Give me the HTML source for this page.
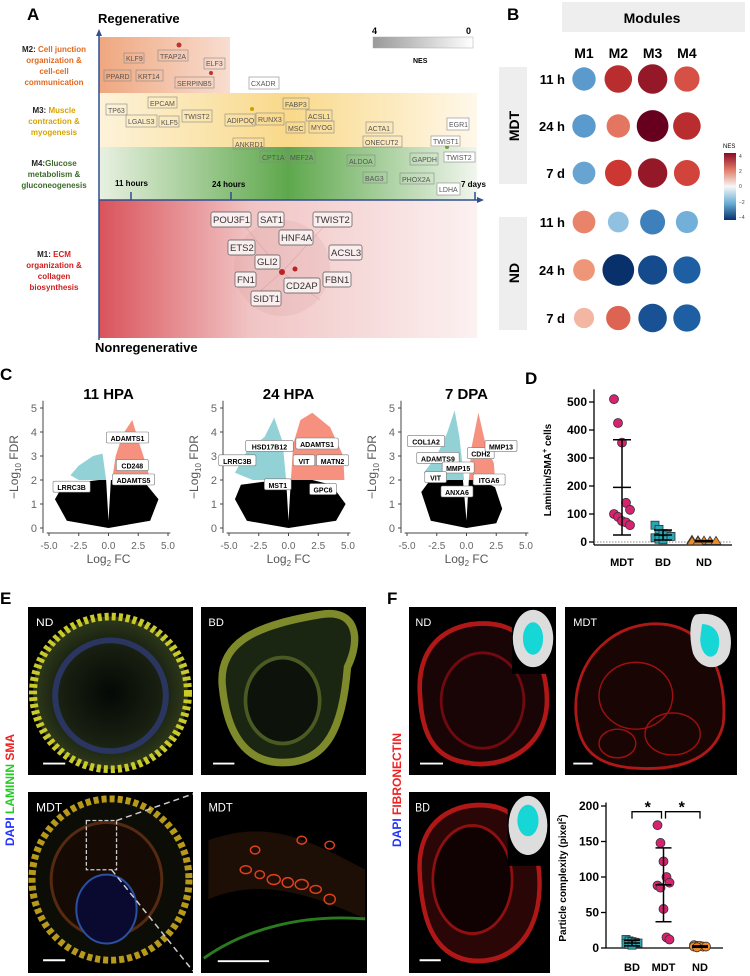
<!DOCTYPE html>
<html><head><meta charset="utf-8">
<style>
body{margin:0;background:#fff;font-family:"Liberation Sans",sans-serif;}
svg{display:block}
text{font-family:"Liberation Sans",sans-serif}
</style></head>
<body>
<svg width="750" height="976" viewBox="0 0 750 976">
<defs>
<linearGradient id="gM2" x1="0" x2="1"><stop offset="0" stop-color="#efa77f"/><stop offset="1" stop-color="#f8ddd0"/></linearGradient>
<linearGradient id="gM3" x1="0" x2="1"><stop offset="0" stop-color="#fdf3da"/><stop offset="0.5" stop-color="#f9d98a"/><stop offset="1" stop-color="#fff8ea"/></linearGradient>
<linearGradient id="gM4" x1="0" x2="1"><stop offset="0" stop-color="#e9f1e2"/><stop offset="0.5" stop-color="#5ea84c"/><stop offset="1" stop-color="#f1f6ee"/></linearGradient>
<linearGradient id="gM1" x1="0" x2="1"><stop offset="0" stop-color="#d9535b"/><stop offset="0.4" stop-color="#f1c4c4"/><stop offset="1" stop-color="#fcf1f1"/></linearGradient>
<linearGradient id="gNES" x1="0" x2="1"><stop offset="0" stop-color="#999"/><stop offset="1" stop-color="#fff"/></linearGradient>
<linearGradient id="gLeg" x1="0" x2="0" y1="0" y2="1"><stop offset="0" stop-color="#8b0a26"/><stop offset="0.25" stop-color="#e07b66"/><stop offset="0.5" stop-color="#f7f7f7"/><stop offset="0.75" stop-color="#6aaed6"/><stop offset="1" stop-color="#08306b"/></linearGradient>
<radialGradient id="tissue" cx="0.5" cy="0.5" r="0.5"><stop offset="0" stop-color="#050805"/><stop offset="0.7" stop-color="#1a2212"/><stop offset="1" stop-color="#2f3a1a"/></radialGradient>
</defs>

<g>
<text x="27" y="20" font-size="17" font-weight="bold">A</text>
<rect x="99" y="37" width="131" height="56" fill="url(#gM2)"/>
<rect x="99" y="93" width="378" height="54" fill="url(#gM3)"/>
<rect x="99" y="147" width="378" height="53" fill="url(#gM4)"/>
<rect x="99" y="200" width="378" height="138" fill="url(#gM1)"/>
<line x1="99" y1="32" x2="99" y2="340" stroke="#2f4f8f" stroke-width="1.5"/>
<polygon points="99,29 96,36 102,36" fill="#2f4f8f"/>
<line x1="99" y1="200" x2="480" y2="200" stroke="#2f4f8f" stroke-width="1.5"/>
<polygon points="484,200 477,197 477,203" fill="#2f4f8f"/>
<line x1="131" y1="192" x2="131" y2="200" stroke="#2f4f8f" stroke-width="1.5"/>
<line x1="231" y1="192" x2="231" y2="200" stroke="#2f4f8f" stroke-width="1.5"/>
<line x1="475" y1="192" x2="475" y2="200" stroke="#2f4f8f" stroke-width="1.5"/>
<text x="115" y="186" font-size="8" font-weight="bold">11 hours</text>
<text x="212" y="187" font-size="8" font-weight="bold">24 hours</text>
<text x="461" y="187" font-size="8" font-weight="bold">7 days</text>
<text x="98" y="23" font-size="13" font-weight="bold">Regenerative</text>
<text x="95" y="352" font-size="13" font-weight="bold">Nonregenerative</text>
<g font-size="8" font-weight="bold" text-anchor="middle">
<text x="54" y="52"><tspan fill="#222">M2: </tspan><tspan fill="#e06a1f">Cell junction</tspan></text>
<text x="54" y="63" fill="#e06a1f">organization &amp;</text>
<text x="54" y="74" fill="#e06a1f">cell-cell</text>
<text x="54" y="85" fill="#e06a1f">communication</text>
<text x="54" y="113"><tspan fill="#222">M3: </tspan><tspan fill="#d9a300">Muscle</tspan></text>
<text x="54" y="124" fill="#d9a300">contraction &amp;</text>
<text x="54" y="135" fill="#d9a300">myogenesis</text>
<text x="54" y="166"><tspan fill="#222">M4:</tspan><tspan fill="#3b6b2a">Glucose</tspan></text>
<text x="54" y="177" fill="#3b6b2a">metabolism &amp;</text>
<text x="54" y="188" fill="#3b6b2a">gluconeogenesis</text>
<text x="54" y="257"><tspan fill="#222">M1: </tspan><tspan fill="#d01c1c">ECM</tspan></text>
<text x="54" y="268" fill="#d01c1c">organization &amp;</text>
<text x="54" y="279" fill="#d01c1c">collagen</text>
<text x="54" y="290" fill="#d01c1c">biosynthesis</text>
</g>
<g stroke="#b0606a" stroke-width="0.4" opacity="0.6">
<circle cx="282" cy="268" r="48" fill="#c88" opacity="0.25" stroke="none"/>
<line x1="282" y1="272" x2="240" y2="220"/><line x1="282" y1="272" x2="330" y2="220"/><line x1="282" y1="272" x2="250" y2="300"/><line x1="282" y1="272" x2="320" y2="300"/>
</g>
<circle cx="282" cy="272" r="3" fill="#b22"/><circle cx="295" cy="269" r="2.5" fill="#b22"/>
<circle cx="179" cy="45" r="2.5" fill="#b33"/><circle cx="211" cy="73" r="2" fill="#b33"/>
<circle cx="252" cy="109" r="2" fill="#c9a000"/><circle cx="447" cy="147" r="2" fill="#6a3"/>
<g font-size="7" fill="#555">
<g>
<rect x="124" y="53" width="20" height="10" fill="none" stroke="#888" stroke-width="0.6"/><text x="126" y="61">KLF9</text>
<rect x="158" y="50" width="30" height="11" fill="none" stroke="#888" stroke-width="0.6"/><text x="160" y="59">TFAP2A</text>
<rect x="204" y="58" width="21" height="11" fill="none" stroke="#888" stroke-width="0.6"/><text x="206" y="66">ELF3</text>
<rect x="104" y="70" width="27" height="11" fill="none" stroke="#888" stroke-width="0.6"/><text x="106" y="79">PPARD</text>
<rect x="136" y="70" width="27" height="11" fill="none" stroke="#888" stroke-width="0.6"/><text x="138" y="79">KRT14</text>
<rect x="175" y="77" width="39" height="11" fill="none" stroke="#888" stroke-width="0.6"/><text x="177" y="86">SERPINB5</text>
<rect x="249" y="77" width="30" height="12" fill="#fff" stroke="#888" stroke-width="0.6"/><text x="251" y="86">CXADR</text>
<rect x="106" y="104" width="21" height="11" fill="none" stroke="#888" stroke-width="0.6"/><text x="108" y="113">TP63</text>
<rect x="148" y="97" width="29" height="11" fill="none" stroke="#888" stroke-width="0.6"/><text x="150" y="106">EPCAM</text>
<rect x="126" y="115" width="31" height="12" fill="none" stroke="#888" stroke-width="0.6"/><text x="128" y="124">LGALS3</text>
<rect x="159" y="116" width="20" height="11" fill="none" stroke="#888" stroke-width="0.6"/><text x="161" y="125">KLF5</text>
<rect x="182" y="110" width="30" height="12" fill="none" stroke="#888" stroke-width="0.6"/><text x="184" y="119">TWIST2</text>
<rect x="225" y="114" width="30" height="12" fill="none" stroke="#888" stroke-width="0.6"/><text x="227" y="123">ADIPOQ</text>
<rect x="256" y="113" width="28" height="12" fill="none" stroke="#888" stroke-width="0.6"/><text x="258" y="122">RUNX3</text>
<rect x="283" y="98" width="26" height="11" fill="none" stroke="#888" stroke-width="0.6"/><text x="285" y="107">FABP3</text>
<rect x="306" y="110" width="26" height="11" fill="none" stroke="#888" stroke-width="0.6"/><text x="308" y="119">ACSL1</text>
<rect x="286" y="122" width="19" height="11" fill="none" stroke="#888" stroke-width="0.6"/><text x="288" y="131">MSC</text>
<rect x="309" y="121" width="25" height="12" fill="none" stroke="#888" stroke-width="0.6"/><text x="311" y="130">MYOG</text>
<rect x="233" y="138" width="31" height="11" fill="none" stroke="#888" stroke-width="0.6"/><text x="235" y="147">ANKRD1</text>
<rect x="260" y="151" width="27" height="11" fill="none" stroke="#888" stroke-width="0.6"/><text x="262" y="160">CPT1A</text>
<rect x="288" y="151" width="27" height="12" fill="none" stroke="#888" stroke-width="0.6"/><text x="290" y="160">MEF2A</text>
<rect x="366" y="122" width="27" height="11" fill="none" stroke="#888" stroke-width="0.6"/><text x="368" y="131">ACTA1</text>
<rect x="363" y="136" width="39" height="11" fill="none" stroke="#888" stroke-width="0.6"/><text x="365" y="145">ONECUT2</text>
<rect x="347" y="155" width="28" height="11" fill="none" stroke="#888" stroke-width="0.6"/><text x="349" y="164">ALDOA</text>
<rect x="363" y="172" width="24" height="11" fill="none" stroke="#888" stroke-width="0.6"/><text x="365" y="181">BAG3</text>
<rect x="447" y="118" width="22" height="12" fill="#fff" stroke="#888" stroke-width="0.6"/><text x="449" y="127">EGR1</text>
<rect x="431" y="136" width="29" height="10" fill="#fff" stroke="#888" stroke-width="0.6"/><text x="433" y="144">TWIST1</text>
<rect x="410" y="153" width="28" height="12" fill="none" stroke="#888" stroke-width="0.6"/><text x="412" y="162">GAPDH</text>
<rect x="444" y="152" width="31" height="10" fill="#fff" stroke="#888" stroke-width="0.6"/><text x="446" y="160">TWIST2</text>
<rect x="400" y="173" width="34" height="11" fill="none" stroke="#888" stroke-width="0.6"/><text x="402" y="182">PHOX2A</text>
<rect x="437" y="183" width="23" height="12" fill="#fff" stroke="#888" stroke-width="0.6"/><text x="439" y="192">LDHA</text>
</g>
</g>
<g font-size="9.5" fill="#333">
<rect x="211" y="212" width="40" height="15" rx="2" fill="#fbeeee" stroke="#555" stroke-width="0.7"/><text x="213" y="223">POU3F1</text>
<rect x="258" y="212" width="26" height="15" rx="2" fill="#fbeeee" stroke="#555" stroke-width="0.7"/><text x="260" y="223">SAT1</text>
<rect x="313" y="212" width="39" height="15" rx="2" fill="#fbeeee" stroke="#555" stroke-width="0.7"/><text x="315" y="223">TWIST2</text>
<rect x="279" y="230" width="34" height="15" rx="2" fill="#fbeeee" stroke="#555" stroke-width="0.7"/><text x="281" y="241">HNF4A</text>
<rect x="228" y="240" width="27" height="15" rx="2" fill="#fbeeee" stroke="#555" stroke-width="0.7"/><text x="230" y="251">ETS2</text>
<rect x="329" y="245" width="33" height="15" rx="2" fill="#fbeeee" stroke="#555" stroke-width="0.7"/><text x="331" y="256">ACSL3</text>
<rect x="255" y="255" width="25" height="14" rx="2" fill="#fbeeee" stroke="#555" stroke-width="0.7"/><text x="257" y="265">GLI2</text>
<rect x="235" y="272" width="21" height="15" rx="2" fill="#fbeeee" stroke="#555" stroke-width="0.7"/><text x="237" y="283">FN1</text>
<rect x="323" y="272" width="28" height="15" rx="2" fill="#fbeeee" stroke="#555" stroke-width="0.7"/><text x="325" y="283">FBN1</text>
<rect x="284" y="278" width="36" height="15" rx="2" fill="#fbeeee" stroke="#555" stroke-width="0.7"/><text x="286" y="289">CD2AP</text>
<rect x="251" y="291" width="30" height="15" rx="2" fill="#fbeeee" stroke="#555" stroke-width="0.7"/><text x="253" y="302">SIDT1</text>
</g>
<g>
<rect x="373" y="37" width="100" height="11" fill="url(#gNES)" stroke="#aaa" stroke-width="0.5"/>
<text x="372" y="34" font-size="9" font-weight="bold">4</text>
<text x="466" y="34" font-size="9" font-weight="bold">0</text>
<text x="413" y="63" font-size="7" font-weight="bold">NES</text>
</g>
</g>

<g>
<text x="507" y="20" font-size="17" font-weight="bold">B</text>
<rect x="562" y="2" width="183" height="30" fill="#eee"/>
<text x="652" y="23" font-size="14" font-weight="bold" text-anchor="middle">Modules</text>
<rect x="499" y="67" width="28" height="117" fill="#eee"/>
<rect x="499" y="217" width="28" height="113" fill="#eee"/>
<text transform="translate(519,126) rotate(-90)" font-size="14" font-weight="bold" text-anchor="middle">MDT</text>
<text transform="translate(519,273) rotate(-90)" font-size="14" font-weight="bold" text-anchor="middle">ND</text>
<g id="bHeat"></g>
<rect x="724" y="153" width="12" height="67" fill="url(#gLeg)"/>
<text x="723" y="148" font-size="6">NES</text>
<g font-size="5" fill="#444"><text x="739" y="158">4</text><text x="739" y="173">2</text><text x="739" y="188">0</text><text x="739" y="204">−2</text><text x="739" y="219">−4</text></g>
</g>

<g>
<text x="0" y="380" font-size="17" font-weight="bold">C</text>
<g id="cVolc"></g>
</g>

<g>
<text x="525" y="384" font-size="17" font-weight="bold">D</text>
<g id="dChart"></g>
</g>

<!-- PANEL E -->
<g>
<text x="0" y="604" font-size="17" font-weight="bold">E</text>
<text transform="translate(14,790) rotate(-90)" font-size="12" font-weight="bold" text-anchor="middle"><tspan fill="#2233ff">DAPI </tspan><tspan fill="#22cc22">LAMININ </tspan><tspan fill="#ee2222">SMA</tspan></text>
<svg x="28" y="607" width="165" height="168" viewBox="22 527 164 176" preserveAspectRatio="none">
<rect x="22" y="527" width="164" height="176" fill="#000"/>
<ellipse cx="104" cy="617" rx="77" ry="80" fill="url(#tissue)" stroke="#c9c92a" stroke-width="8" stroke-dasharray="4 3"/>
<ellipse cx="104" cy="620" rx="55" ry="58" fill="none" stroke="#2a3560" stroke-width="6"/>
<text x="30" y="547" font-size="12" fill="#fff">ND</text>
<line x1="37" y1="691" x2="59" y2="691" stroke="#fff" stroke-width="2"/>
</svg>
<svg x="201" y="607" width="165" height="168" viewBox="192 527 178 176" preserveAspectRatio="none">
<rect x="192" y="527" width="178" height="176" fill="#000"/>
<path d="M215,610 C210,560 260,545 320,535 C360,528 365,560 350,590 C345,650 330,690 280,690 C240,690 220,660 215,610Z" fill="#1a2612" stroke="#7f8a2a" stroke-width="8"/>
<ellipse cx="280" cy="625" rx="40" ry="45" fill="#0d120a" stroke="#4a5a22" stroke-width="4"/>
<text x="200" y="547" font-size="12" fill="#fff">BD</text>
<line x1="205" y1="691" x2="228" y2="691" stroke="#fff" stroke-width="2"/>
</svg>
<svg x="28" y="792" width="165" height="181" viewBox="22 711 164 184" preserveAspectRatio="none">
<rect x="22" y="711" width="164" height="184" fill="#000"/>
<ellipse cx="104" cy="800" rx="78" ry="82" fill="#0d0d08" stroke="#b89a1a" stroke-width="7" stroke-dasharray="5 3"/>
<ellipse cx="100" cy="800" rx="55" ry="58" fill="#160a05" stroke="#552a10" stroke-width="3"/>
<ellipse cx="100" cy="830" rx="30" ry="35" fill="#0a0a30" stroke="#2a50a0" stroke-width="2"/>
<rect x="80" y="740" width="30" height="50" fill="none" stroke="#ccc" stroke-width="1.3" stroke-dasharray="4 2"/>
<line x1="110" y1="740" x2="186" y2="713" stroke="#ccc" stroke-width="1.5" stroke-dasharray="6 4"/>
<line x1="105" y1="790" x2="186" y2="893" stroke="#ccc" stroke-width="1.5" stroke-dasharray="6 4"/>
<text x="30" y="731" font-size="12" fill="#fff">MDT</text>
<line x1="37" y1="882" x2="59" y2="882" stroke="#fff" stroke-width="2"/>
</svg>
<svg x="201" y="792" width="166" height="181" viewBox="192 711 178 184" preserveAspectRatio="none">
<rect x="192" y="711" width="178" height="184" fill="#000"/>
<path d="M200,760 C260,740 300,755 368,790 L368,840 C300,810 250,800 200,820Z" fill="#2a1608" opacity="0.7"/>
<g fill="none" stroke="#e2401c" stroke-width="1.5">
<ellipse cx="240" cy="790" rx="6" ry="4"/><ellipse cx="255" cy="795" rx="5" ry="4"/><ellipse cx="270" cy="800" rx="7" ry="5"/><ellipse cx="285" cy="803" rx="6" ry="5"/><ellipse cx="300" cy="805" rx="7" ry="5"/><ellipse cx="315" cy="810" rx="6" ry="4"/><ellipse cx="330" cy="820" rx="6" ry="5"/><ellipse cx="300" cy="760" rx="5" ry="4"/><ellipse cx="330" cy="765" rx="5" ry="4"/><ellipse cx="250" cy="770" rx="5" ry="4"/>
</g>
<path d="M195,880 C240,850 300,835 368,840" stroke="#2a7a20" stroke-width="3" fill="none"/>
<text x="200" y="731" font-size="12" fill="#fff">MDT</text>
<line x1="210" y1="883" x2="265" y2="883" stroke="#fff" stroke-width="2"/>
</svg>
</g>

<!-- PANEL F -->
<g>
<text x="387" y="604" font-size="17" font-weight="bold">F</text>
<text transform="translate(401,790) rotate(-90)" font-size="12" font-weight="bold" text-anchor="middle"><tspan fill="#2233ff">DAPI </tspan><tspan fill="#ee2222">FIBRONECTIN</tspan></text>
<svg x="409" y="607" width="147" height="168" viewBox="398 527 160 176" preserveAspectRatio="none">
<rect x="398" y="527" width="160" height="176" fill="#000"/>
<path d="M410,620 C405,560 450,540 490,545 C530,550 550,590 548,630 C545,675 500,698 460,690 C425,685 412,660 410,620Z" fill="#1a0506" stroke="#b01818" stroke-width="5"/>
<ellipse cx="478" cy="625" rx="45" ry="50" fill="none" stroke="#700a10" stroke-width="3"/>
<rect x="510" y="527" width="48" height="70" fill="#000"/>
<ellipse cx="533" cy="560" rx="22" ry="30" fill="#ddd"/><ellipse cx="533" cy="560" rx="11" ry="17" fill="#16d6d6"/>
<text x="405" y="547" font-size="12" fill="#fff">ND</text>
<line x1="410" y1="691" x2="435" y2="691" stroke="#fff" stroke-width="2"/>
</svg>
<svg x="565" y="607" width="172" height="168" viewBox="563 527 187 176" preserveAspectRatio="none">
<rect x="563" y="527" width="187" height="176" fill="#000"/>
<path d="M575,640 C570,580 620,540 670,545 C720,550 740,600 735,650 C725,690 680,700 630,695 C590,690 578,670 575,640Z" fill="#1a0505" stroke="#b01818" stroke-width="3"/>
<g fill="none" stroke="#a01010" stroke-width="1.5"><ellipse cx="640" cy="620" rx="40" ry="35"/><ellipse cx="680" cy="660" rx="30" ry="22"/><ellipse cx="620" cy="670" rx="20" ry="15"/></g>
<path d="M705,535 C735,530 748,550 742,575 C735,595 710,595 702,575 C698,560 698,540 705,535Z" fill="#ddd"/>
<path d="M712,545 C728,545 735,560 728,575 C720,585 710,575 710,560Z" fill="#16d6d6"/>
<text x="572" y="547" font-size="12" fill="#fff">MDT</text>
<line x1="572" y1="691" x2="593" y2="691" stroke="#fff" stroke-width="2"/>
</svg>
<svg x="409" y="792" width="141" height="181" viewBox="398 711 160 184" preserveAspectRatio="none">
<rect x="398" y="711" width="160" height="184" fill="#000"/>
<path d="M410,790 C408,740 450,720 490,725 C530,730 548,770 546,810 C544,860 510,888 465,882 C425,875 412,840 410,790Z" fill="#2a0606" stroke="#b01818" stroke-width="5"/>
<ellipse cx="470" cy="800" rx="45" ry="55" fill="#100202" stroke="#901010" stroke-width="3"/>
<rect x="510" y="711" width="48" height="75" fill="#000"/>
<ellipse cx="533" cy="745" rx="22" ry="30" fill="#ddd"/><ellipse cx="533" cy="740" rx="12" ry="16" fill="#16d6d6"/>
<text x="405" y="731" font-size="12" fill="#fff">BD</text>
<line x1="410" y1="882" x2="434" y2="882" stroke="#fff" stroke-width="2"/>
</svg>
<g id="fChart"></g>
</g>
</svg>
<script>
const NS='http://www.w3.org/2000/svg';
function mk(parent,tag,attrs,txt){const e=document.createElementNS(NS,tag);for(const k in attrs)e.setAttribute(k,attrs[k]);if(txt!==undefined)e.textContent=txt;parent.appendChild(e);return e;}

/* ---------- Panel B data ---------- */
const bModules=['M1','M2','M3','M4'];
const bRows=['11 h','24 h','7 d','11 h','24 h','7 d'];
const bGroups=['MDT','MDT','MDT','ND','ND','ND'];
const bNES=[
 [-2.0,3.3,3.9,2.6],
 [-2.0,2.0,4.6,3.3],
 [-1.8,3.0,3.9,2.8],
 [1.8,-1.2,-2.5,-1.6],
 [1.5,-4.6,-3.8,-3.2],
 [1.0,2.3,-3.6,-3.2]
];
function nesColor(v){
 const stops=[[-4.6,[8,48,107]],[-3,[33,102,172]],[-1.5,[120,180,220]],[0,[247,247,247]],[1.5,[240,150,120]],[3,[205,55,50]],[4.6,[103,0,31]]];
 if(v<=stops[0][0])return 'rgb('+stops[0][1]+')';
 for(let i=1;i<stops.length;i++){if(v<=stops[i][0]){const a=stops[i-1],b=stops[i],t=(v-a[0])/(b[0]-a[0]);return 'rgb('+a[1].map((c,j)=>Math.round(c+(b[1][j]-c)*t)).join(',')+')';}}
 return 'rgb('+stops[stops.length-1][1]+')';
}
(function(){
 const g=document.getElementById('bHeat');
 const colX=i=>584+i*34.3, rowY=i=>(i<3?79+i*47:222+(i-3)*48);
 bModules.forEach((m,i)=>{const t=mk(g,'text',{x:colX(i),y:58,'font-size':14,'font-weight':'bold','text-anchor':'middle'},m);
  
  });
 bRows.forEach((r,i)=>{const t=mk(g,'text',{x:565,y:rowY(i)+5,'font-size':13,'font-weight':'bold','text-anchor':'end'},r);
  
  
  bNES[i].forEach((v,j)=>{const c=mk(g,'circle',{cx:colX(j),cy:rowY(i),r:8.5+Math.abs(v)*1.6,fill:nesColor(v)});
   
   });});
})();

/* ---------- Panel C data ---------- */
const cTitles=['11 HPA','24 HPA','7 DPA'];
const cTicksX=[-5,-2.5,0,2.5,5];
const cTicksY=[0,1,2,3,4,5];
const cBlack=[
 [[-4.5,1.2],[-3.8,1.8],[-2.5,1.9],[-0.8,2],[-0.2,2],[0,0.3],[0.2,2],[1.5,2],[3.2,1.8],[4.2,1.2],[3.5,0.3],[0,0],[-3.5,0.3]],
 [[-4.5,1.2],[-4,1.8],[-2.5,1.9],[-0.8,2],[-0.2,2],[0,0.3],[0.2,2],[2,2],[3.6,1.8],[4.8,1],[4,0.3],[0,0],[-3.5,0.3]],
 [[-3.8,1.5],[-3.2,1.9],[-1.5,2],[-0.3,2],[0,0.3],[0.2,2],[1.2,2],[2.4,1.7],[3,0.8],[2.5,0.2],[0,0],[-3,0.3]]
];
const cUp=[
 [[0.3,2],[0.6,3],[1.2,3.9],[2,4.5],[2.6,3.5],[3.2,2.6],[3.5,2],[0.3,2]],
 [[0.2,2],[0.4,3.5],[1,4.5],[2,4.8],[3.5,4.2],[4.6,3],[4.7,2],[0.2,2]],
 [[0.2,2],[0.4,3.3],[1,4.8],[1.6,3.5],[2.3,2.7],[2.4,2],[0.2,2]]
];
const cDown=[
 [[-0.2,2],[-0.5,3.1],[-1.3,3],[-2.5,2.6],[-3.2,2.2],[-2.5,2],[-0.2,2]],
 [[-0.2,2],[-0.5,3.6],[-1.2,4.6],[-2,3.8],[-3.5,3.2],[-4.5,2.3],[-3,2],[-0.2,2]],
 [[-0.2,2],[-0.6,3.8],[-1,4.9],[-1.6,4],[-2.5,3],[-3.6,2.3],[-2.8,2],[-0.2,2]]
];
const cLabels=[
 [['ADAMTS1',1.6,3.75],['CD248',2.0,2.6],['ADAMTS5',2.1,2.0],['LRRC3B',-3.1,1.7]],
 [['HSD17B12',-1.6,3.4],['ADAMTS1',2.4,3.5],['VIT',1.3,2.8],['MATN2',3.7,2.8],['LRRC3B',-4.3,2.8],['MST1',-0.9,1.8],['GPC6',2.9,1.6]],
 [['COL1A2',-3.4,3.6],['ADAMTS9',-2.4,2.9],['MMP15',-0.7,2.5],['CDH2',1.2,3.1],['MMP13',2.9,3.4],['VIT',-2.6,2.1],['ITGA6',1.9,2.0],['ANXA6',-0.8,1.5]]
];
(function(){
 const g=document.getElementById('cVolc');
 const offs=[0,180,358];
 cTitles.forEach((title,p)=>{
  const ox=offs[p];
  const X=v=>ox+108.5+v*11.9, Y=v=>528-v*24;
  const sg=mk(g,'g',{});
  
  
  mk(sg,'text',{x:X(0),y:399,'font-size':15,'font-weight':'bold','text-anchor':'middle'},title);
  mk(sg,'line',{x1:ox+43,y1:Y(5.3),x2:ox+43,y2:533,stroke:'#444','stroke-width':1});
  mk(sg,'line',{x1:X(-5.2),y1:533,x2:X(5.2),y2:533,stroke:'#444','stroke-width':1});
  cTicksY.forEach(t=>{mk(sg,'line',{x1:ox+40,y1:Y(t),x2:ox+43,y2:Y(t),stroke:'#444'});
   mk(sg,'text',{x:ox+37,y:Y(t)+4,'font-size':11,fill:'#666','text-anchor':'end'},t);});
  cTicksX.forEach(t=>{mk(sg,'line',{x1:X(t),y1:533,x2:X(t),y2:536,stroke:'#444'});
   mk(sg,'text',{x:X(t),y:549,'font-size':10,fill:'#666','text-anchor':'middle'},t.toFixed(1));});
  const yt=mk(sg,'text',{transform:'translate('+(ox+18)+',467) rotate(-90)','font-size':12,fill:'#555','text-anchor':'middle'},'−Log');
  mk(yt,'tspan',{'font-size':8,dy:3},'10');mk(yt,'tspan',{dy:-3},' FDR');
  const xt=mk(sg,'text',{x:X(0),y:563,'font-size':12,fill:'#555','text-anchor':'middle'},'Log');
  mk(xt,'tspan',{'font-size':8,dy:3},'2');mk(xt,'tspan',{dy:-3},' FC');
  const pts=a=>a.map(q=>X(q[0])+','+Y(q[1])).join(' ');
  mk(sg,'polygon',{points:pts(cDown[p]),fill:'#7fc9cf',opacity:0.85});
  mk(sg,'polygon',{points:pts(cUp[p]),fill:'#f47c68',opacity:0.85});
  mk(sg,'polygon',{points:pts(cBlack[p]),fill:'#000'});
  cLabels[p].forEach(l=>{const w=l[0].length*5.2+6;
   const r=mk(sg,'rect',{x:X(l[1])-w/2,y:Y(l[2])-6,width:w,height:11,rx:1.5,fill:'#fff',stroke:'#777','stroke-width':0.6});
   
   
   mk(sg,'text',{x:X(l[1]),y:Y(l[2])+3,'font-size':7,'font-weight':'bold','text-anchor':'middle'},l[0]);});
 });
})();

/* ---------- Panel D data ---------- */
const dCats=['MDT','BD','ND'];
const dMDT=[510,425,355,140,115,100,90,75,70,60];
const dBD=[60,45,30,25,20,15,10,8];
const dND=[6,4,3,2,2,1,1];
const dMean=[195,25,3];
const dSD=[170,18,2];
const dTicks=[0,100,200,300,400,500];
(function(){
 const g=document.getElementById('dChart');
 const Y=v=>542-v*0.28, X=i=>622+i*41;
 mk(g,'line',{x1:594,y1:Y(545),x2:594,y2:545,stroke:'#000','stroke-width':1.3});
 mk(g,'line',{x1:594,y1:545,x2:732,y2:545,stroke:'#000','stroke-width':1.3});
 mk(g,'line',{x1:594,y1:Y(0),x2:732,y2:Y(0),stroke:'#888','stroke-dasharray':'1.5 1.5'});
 dTicks.forEach(t=>{mk(g,'line',{x1:589,y1:Y(t),x2:594,y2:Y(t),stroke:'#000','stroke-width':1.3});
  mk(g,'text',{x:587,y:Y(t)+4,'font-size':12,'font-weight':'bold','text-anchor':'end'},t);});
 const yt=mk(g,'text',{transform:'translate(551,470) rotate(-90)','font-size':10,'font-weight':'bold','text-anchor':'middle'},'Laminin/SMA');
 mk(yt,'tspan',{'font-size':7,dy:-4},'+');mk(yt,'tspan',{dy:4},' cells');
 dCats.forEach((c,i)=>mk(g,'text',{x:X(i),y:566,'font-size':11,'font-weight':'bold','text-anchor':'middle'},c));
 const sets=[dMDT,dBD,dND], cols=['#d6236f','#27a7b5','#f08a24'];
 sets.forEach((arr,i)=>{
  const top=dMean[i]+dSD[i], bot=Math.max(0,dMean[i]-dSD[i]);
  arr.forEach((v,k)=>{const dx=((k%5)-2)*4;let e;
   if(i===0)e=mk(g,'circle',{cx:X(i)+dx,cy:Y(v),r:4.5,fill:cols[i],stroke:'#333','stroke-width':0.8});
   else if(i===1)e=mk(g,'rect',{x:X(i)+dx-4,y:Y(v)-4,width:8,height:8,fill:cols[i],stroke:'#333','stroke-width':0.8});
   else e=mk(g,'polygon',{points:(X(i)+dx*1.5)+','+(Y(v)-5)+' '+(X(i)+dx*1.5-5)+','+(Y(v)+3)+' '+(X(i)+dx*1.5+5)+','+(Y(v)+3),fill:cols[i],stroke:'#333','stroke-width':0.8});
   
   });
  mk(g,'line',{x1:X(i),y1:Y(top),x2:X(i),y2:Y(bot),stroke:'#000','stroke-width':1.5});
  [top,dMean[i],bot].forEach(v=>mk(g,'line',{x1:X(i)-9,y1:Y(v),x2:X(i)+9,y2:Y(v),stroke:'#000','stroke-width':1.5}));
 });
})();

/* ---------- Panel F chart data ---------- */
const fCats=['BD','MDT','ND'];
const fBD=[12,10,9,8,7,6,5,4];
const fMDT=[173,148,122,100,92,88,85,55,15,12];
const fND=[4,3,3,2,2,2,1];
const fMean=[7,89,2];
const fSD=[4,52,1];
const fTicks=[0,50,100,150,200];
(function(){
 const g=document.getElementById('fChart');
 const Y=v=>948-v*0.71, X=i=>632+i*31.5+(i===2?5:0);
 mk(g,'line',{x1:606,y1:Y(205),x2:606,y2:948,stroke:'#000','stroke-width':1.3});
 mk(g,'line',{x1:606,y1:948,x2:723,y2:948,stroke:'#000','stroke-width':1.3});
 fTicks.forEach(t=>{mk(g,'line',{x1:601,y1:Y(t),x2:606,y2:Y(t),stroke:'#000','stroke-width':1.3});
  mk(g,'text',{x:599,y:Y(t)+4,'font-size':12,'font-weight':'bold','text-anchor':'end'},t);});
 const yt=mk(g,'text',{transform:'translate(566,878) rotate(-90)','font-size':10,'font-weight':'bold','text-anchor':'middle'},'Particle complexity (pixel');
 mk(yt,'tspan',{'font-size':7,dy:-4},'2');mk(yt,'tspan',{dy:4},')');
 fCats.forEach((c,i)=>mk(g,'text',{x:X(i),y:971,'font-size':11,'font-weight':'bold','text-anchor':'middle'},c));
 const by=Y(192);
 mk(g,'path',{d:'M'+X(0)+','+(by+7)+' V'+by+' H'+(X(1)-2)+' V'+(by+7),fill:'none',stroke:'#000','stroke-width':1.3});
 mk(g,'path',{d:'M'+(X(1)+2)+','+(by+7)+' V'+by+' H'+X(2)+' V'+(by+7),fill:'none',stroke:'#000','stroke-width':1.3});
 mk(g,'text',{x:(X(0)+X(1))/2,y:by+1,'font-size':16,'font-weight':'bold','text-anchor':'middle'},'*');
 mk(g,'text',{x:(X(1)+X(2))/2,y:by+1,'font-size':16,'font-weight':'bold','text-anchor':'middle'},'*');
 const sets=[fBD,fMDT,fND], cols=['#27a7b5','#d6236f','#f08a24'];
 sets.forEach((arr,i)=>{
  const top=fMean[i]+fSD[i], bot=Math.max(0,fMean[i]-fSD[i]);
  arr.forEach((v,k)=>{const dx=((k%5)-2)*3;let e;
   if(i===0)e=mk(g,'rect',{x:X(i)+dx-4,y:Y(v)-4,width:8,height:8,fill:cols[i],stroke:'#333','stroke-width':0.8});
   else e=mk(g,'circle',{cx:X(i)+dx,cy:Y(v),r:4.5,fill:cols[i],stroke:'#333','stroke-width':0.8});
   
   });
  mk(g,'line',{x1:X(i),y1:Y(top),x2:X(i),y2:Y(bot),stroke:'#000','stroke-width':1.5});
  [top,fMean[i],bot].forEach(v=>mk(g,'line',{x1:X(i)-8,y1:Y(v),x2:X(i)+8,y2:Y(v),stroke:'#000','stroke-width':1.5}));
 });
})();
</script>
</body></html>
